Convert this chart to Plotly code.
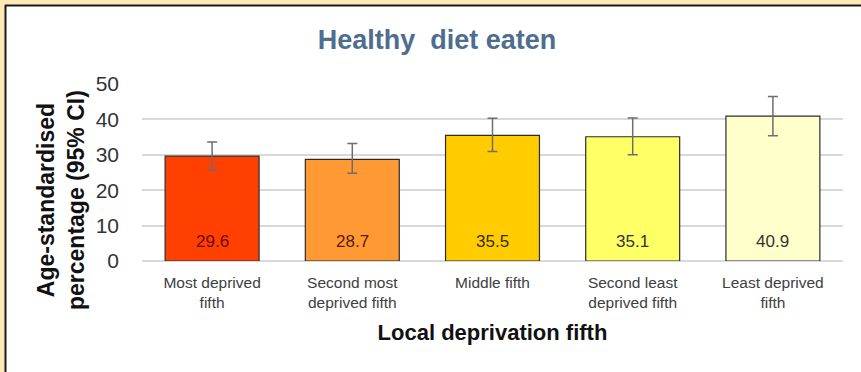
import plotly.graph_objects as go

categories = ["Most deprived<br>fifth", "Second most<br>deprived fifth", "Middle fifth",
              "Second least<br>deprived fifth", "Least deprived<br>fifth"]
values = [29.6, 28.7, 35.5, 35.1, 40.9]
ci_upper = [33.6, 33.2, 40.3, 40.4, 46.5]
ci_lower = [25.8, 24.8, 30.9, 30.0, 35.4]
bar_colors = ["#FF4000", "#FF9933", "#FFCC00", "#FFFF66", "#FFFFCC"]
label_colors = ["#6b0a00", "#5a1a00", "#3a2a00", "#333333", "#333333"]
y_ticks = [0, 10, 20, 30, 40, 50]

W, H = 861, 372
L, R, T, B = 142, 18, 84, 111

err_plus = [u - v for u, v in zip(ci_upper, values)]
err_minus = [v - l for v, l in zip(values, ci_lower)]

fig = go.Figure()
fig.add_trace(go.Bar(
    x=categories, y=values,
    marker=dict(color=bar_colors, line=dict(color="#2b2b2b", width=1.2)),
    error_y=dict(type="data", array=err_plus, arrayminus=err_minus,
                 color="#6e6e6e", thickness=1.5, width=5),
    width=0.67,
))

for c, v, col in zip(categories, values, label_colors):
    fig.add_annotation(x=c, y=0, yshift=20, text=f"{v:.1f}", showarrow=False,
                       xanchor="center", yanchor="middle",
                       font=dict(family="Arial, Liberation Sans", size=17, color=col))

pw = W - L - R
ph = H - T - B
def px_x(p):
    return (p - L) / pw
def px_y(p):
    return 1 - (p - T) / ph

# y-axis title placed as a rotated annotation (sits lower than plot centre in the reference)
fig.add_annotation(xref="paper", yref="paper", x=px_x(61), y=px_y(200),
                   text="<b>Age-standardised<br>percentage (95% CI)</b>", showarrow=False,
                   textangle=-90, xanchor="center", yanchor="middle",
                   font=dict(family="Arial, Liberation Sans", size=23, color="#111111"))

shapes = [
    dict(type="rect", xref="paper", yref="paper", x0=px_x(0), x1=px_x(W), y0=px_y(0), y1=px_y(5),
         fillcolor="#FFE8B4", line=dict(width=0), layer="below"),
    dict(type="rect", xref="paper", yref="paper", x0=px_x(0), x1=px_x(5), y0=px_y(0), y1=px_y(H),
         fillcolor="#FFE8B4", line=dict(width=0), layer="below"),
    dict(type="line", xref="paper", yref="paper", x0=px_x(5), x1=px_x(W), y0=px_y(5.5), y1=px_y(5.5),
         line=dict(color="#1a1a1a", width=2)),
    dict(type="line", xref="paper", yref="paper", x0=px_x(5.5), x1=px_x(5.5), y0=px_y(5), y1=px_y(H),
         line=dict(color="#1a1a1a", width=2)),
]

fig.update_layout(
    width=W, height=H,
    margin=dict(l=L, r=R, t=T, b=B),
    paper_bgcolor="white", plot_bgcolor="white",
    showlegend=False,
    font=dict(family="Arial, Liberation Sans", color="#333333"),
    title=dict(text="Healthy\u00a0 diet eaten", x=437 / W, xanchor="center",
               y=1 - 40 / H, yanchor="middle",
               font=dict(family="Arial, Liberation Sans", size=27, color="#4F6D8F", weight="bold")),
    bargap=0.33,
    shapes=shapes,
    xaxis=dict(
        tickfont=dict(family="Arial, Liberation Sans", size=15.5, color="#404040"),
        showline=False, ticks="", showgrid=False, ticklabelstandoff=10,
        title=dict(text="<b>Local deprivation fifth</b>", standoff=14,
                   font=dict(family="Arial, Liberation Sans", size=22, color="#111111")),
    ),
    yaxis=dict(
        range=[0, 50], tickvals=y_ticks, ticks="",
        tickfont=dict(family="Arial, Liberation Sans", size=21, color="#333333"),
        showgrid=True, gridcolor="#D9D9D9", gridwidth=1.5,
        zeroline=True, zerolinecolor="#D9D9D9", zerolinewidth=1.5,
        showline=False, ticklabelstandoff=22,
    ),
)

fig.write_html("out.html", post_script="document.body.style.margin='0';",
               config={"displayModeBar": False})
